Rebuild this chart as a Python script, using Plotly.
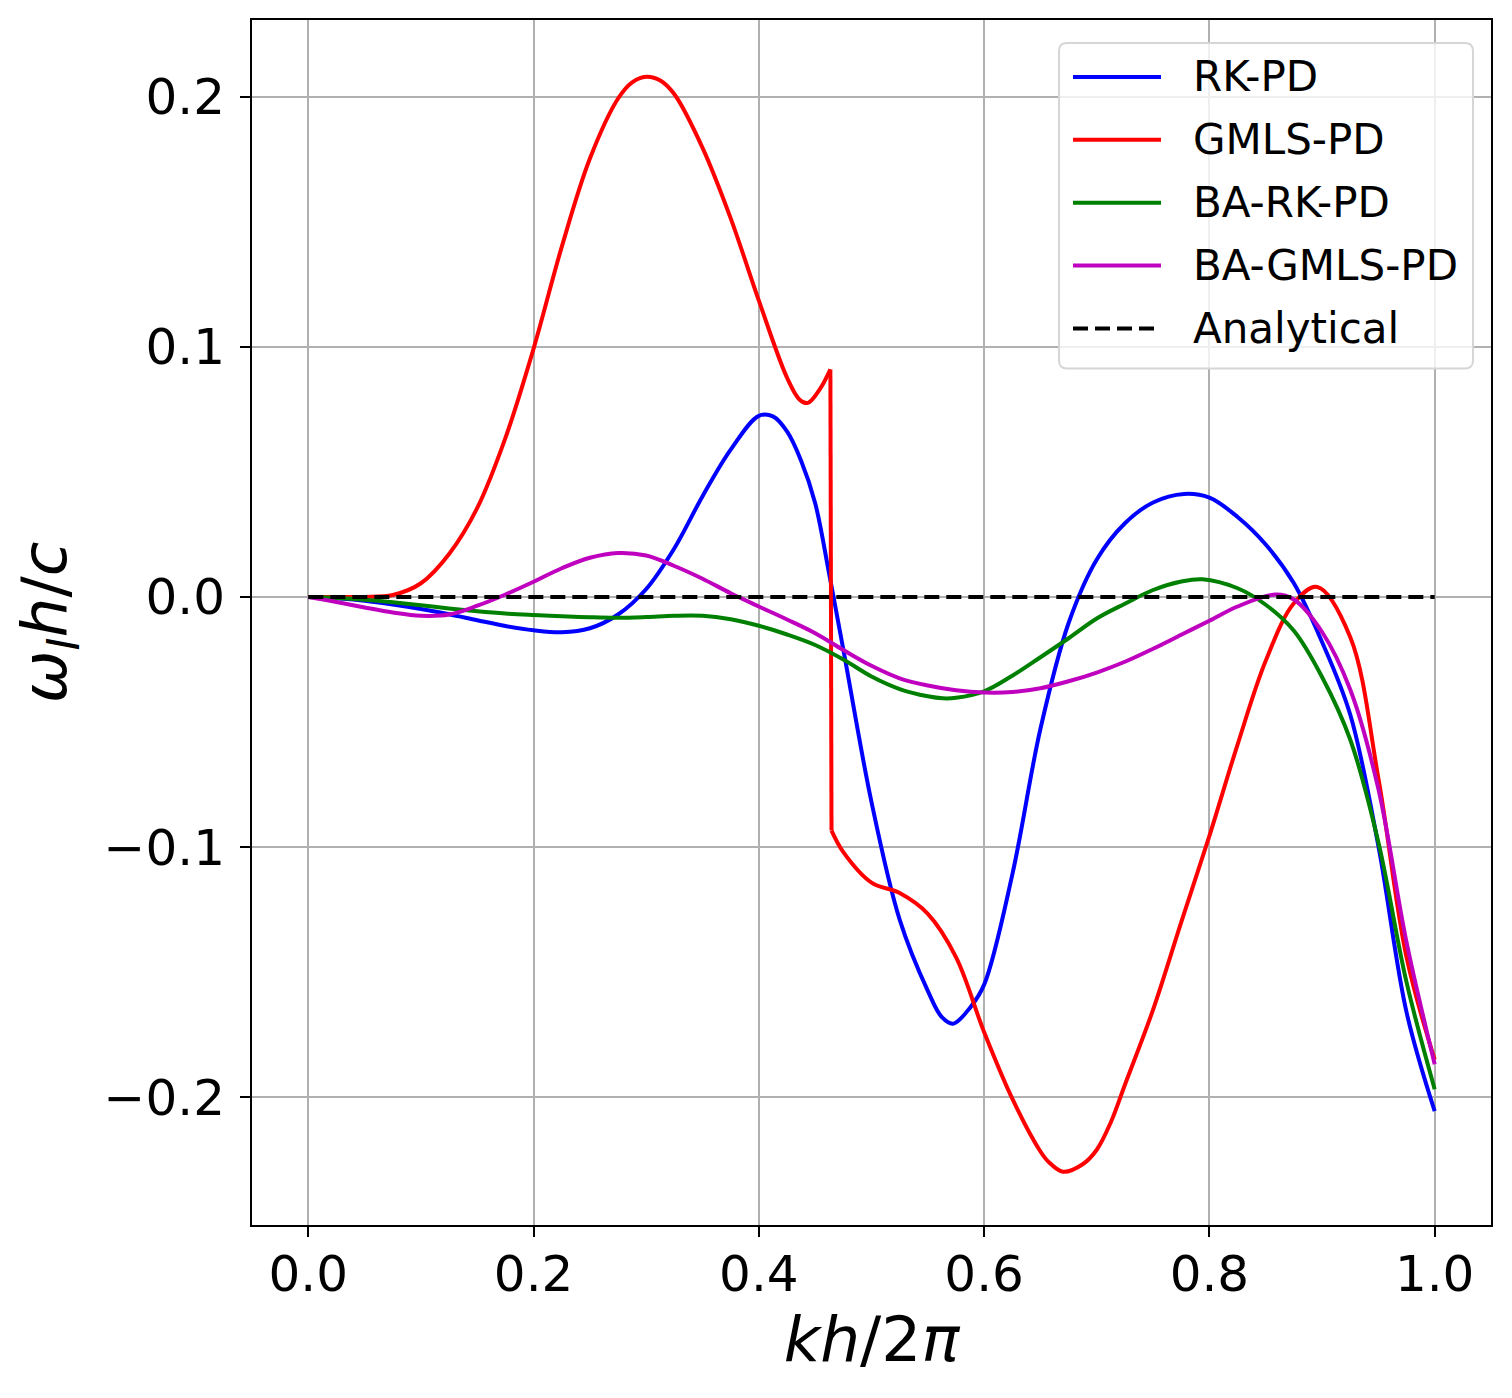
import plotly.graph_objects as go

# ---------------- data ----------------
rk_x = [0, 0.025, 0.05, 0.075, 0.1, 0.125, 0.15, 0.175, 0.2, 0.225, 0.25, 0.275, 0.3,
        0.325, 0.35, 0.375, 0.4, 0.4125, 0.425, 0.4375, 0.45, 0.4625, 0.475, 0.5, 0.525,
        0.55, 0.5625, 0.5725, 0.5875, 0.6, 0.625, 0.65, 0.675, 0.7, 0.725, 0.75, 0.7775,
        0.8, 0.825, 0.85, 0.875, 0.9, 0.925, 0.95, 0.975, 1.0]
rk_y = [0, -0.0005, -0.0015, -0.003, -0.0048, -0.0069, -0.0093, -0.0116, -0.0133,
        -0.0141, -0.0125, -0.0070, 0.0032, 0.0195, 0.0403, 0.0589, 0.0724, 0.0722,
        0.0662, 0.0545, 0.0375, 0.0090, -0.0210, -0.0820, -0.1290, -0.1575, -0.1680,
        -0.1706, -0.1642, -0.1550, -0.1110, -0.0527, -0.0104, 0.0150, 0.0295, 0.0378,
        0.0412, 0.0397, 0.0320, 0.0210, 0.0055, -0.0180, -0.0470, -0.0995, -0.1660,
        -0.2056]

gmls_x = [0, 0.025, 0.05, 0.075, 0.1, 0.125, 0.15, 0.175, 0.2, 0.225, 0.25, 0.275,
          0.2875, 0.3, 0.3125, 0.325, 0.35, 0.375, 0.4, 0.425, 0.4362, 0.4435, 0.4539,
          0.4635,
          0.4645, 0.475, 0.5, 0.525, 0.55, 0.575, 0.6, 0.625, 0.65, 0.6575, 0.67, 0.6875,
          0.7, 0.7125, 0.725, 0.75, 0.775, 0.8, 0.825, 0.85, 0.875, 0.8957, 0.925, 0.95,
          0.975, 1.0]
gmls_y = [0, 0.0, 0.0, 0.0008, 0.0055, 0.0172, 0.0356, 0.0636, 0.0993, 0.1400, 0.1753,
          0.1993, 0.2058, 0.2080, 0.2065, 0.2010, 0.1796, 0.1514, 0.1185, 0.0877, 0.0789,
          0.0776, 0.0829, 0.0910,
          -0.0934, -0.1020, -0.1142, -0.1184, -0.1267, -0.1440, -0.1740, -0.2006,
          -0.2217, -0.2260, -0.2298, -0.2268, -0.2210, -0.2100, -0.1950, -0.1650,
          -0.1300, -0.0955, -0.0590, -0.0255, -0.0025, 0.0040, -0.0160, -0.0724,
          -0.1440, -0.1850]
gmls_jump_at = 0.4645  # the GMLS-PD curve drops vertically here

bark_x = [0, 0.025, 0.05, 0.075, 0.1, 0.125, 0.15, 0.175, 0.2, 0.225, 0.25, 0.275, 0.3,
          0.325, 0.35, 0.375, 0.4, 0.425, 0.45, 0.475, 0.5, 0.525, 0.55, 0.5632, 0.575,
          0.6, 0.625, 0.65, 0.675, 0.7, 0.725, 0.75, 0.775, 0.7937, 0.825, 0.85, 0.875,
          0.9, 0.925, 0.95, 0.975, 1.0]
bark_y = [0, -0.0004, -0.0011, -0.0021, -0.0033, -0.0046, -0.0057, -0.0066, -0.0072,
          -0.0077, -0.0081, -0.0083, -0.0080, -0.0075, -0.0075, -0.0089, -0.0115,
          -0.0150, -0.0192, -0.0250, -0.0318, -0.0368, -0.0397, -0.0405, -0.0403,
          -0.0377, -0.0315, -0.0241, -0.0165, -0.0086, -0.0027, 0.0028, 0.0062, 0.0071,
          0.0035, -0.0031, -0.0135, -0.0320, -0.0570, -0.0980, -0.1540, -0.1968]

bagmls_x = [0, 0.025, 0.05, 0.075, 0.1, 0.125, 0.15, 0.175, 0.2, 0.225, 0.25, 0.275, 0.3,
            0.325, 0.35, 0.375, 0.4, 0.425, 0.45, 0.475, 0.5, 0.525, 0.55, 0.575, 0.6,
            0.625, 0.65, 0.675, 0.7, 0.725, 0.75, 0.775, 0.8, 0.825, 0.8588, 0.875, 0.9,
            0.925, 0.95, 0.975, 1.0]
bagmls_y = [0, -0.0020, -0.0042, -0.0062, -0.0075, -0.0070, -0.0035, 0.0010, 0.0061,
            0.0115, 0.0157, 0.0176, 0.0166, 0.0124, 0.0073, 0.0015, -0.0038, -0.0090,
            -0.0145, -0.0212, -0.0275, -0.0325, -0.0354, -0.0373, -0.0382, -0.0380,
            -0.0365, -0.0337, -0.0302, -0.0259, -0.0207, -0.0151, -0.0095, -0.0038,
            0.0010, -0.0010, -0.0140, -0.0370, -0.0767, -0.1380, -0.1868]

analytical_x = [0, 1.0]
analytical_y = [0, 0]

series_names = ["RK-PD", "GMLS-PD", "BA-RK-PD", "BA-GMLS-PD", "Analytical"]
series_colors = ["#0000ff", "#ff0000", "#008000", "#bf00bf", "#000000"]

x_ticks = [0.0, 0.2, 0.4, 0.6, 0.8, 1.0]
x_ticktext = ["0.0", "0.2", "0.4", "0.6", "0.8", "1.0"]
y_ticks = [-0.2, -0.1, 0.0, 0.1, 0.2]
y_ticktext = ["\u22120.2", "\u22120.1", "0.0", "0.1", "0.2"]

# ---------------- figure ----------------
FONT = "DejaVu Sans"
LW = 4
DASH = "15px,7px"
fig = go.Figure()


def add_line(xs, ys, name, col, shape="spline", dash="solid"):
    fig.add_trace(go.Scatter(
        x=xs, y=ys, mode="lines", name=name, legendgroup=name, showlegend=False,
        line=dict(color=col, width=LW, shape=shape, smoothing=1.0, dash=dash),
    ))


add_line(rk_x, rk_y, series_names[0], series_colors[0])

# GMLS-PD: smooth pieces on both sides of its vertical drop, joined by a straight segment
j = gmls_x.index(gmls_jump_at)
add_line(gmls_x[:j], gmls_y[:j], series_names[1], series_colors[1])
add_line(gmls_x[j - 1:j + 1], gmls_y[j - 1:j + 1], series_names[1], series_colors[1],
         shape="linear")
add_line(gmls_x[j:], gmls_y[j:], series_names[1], series_colors[1])

add_line(bark_x, bark_y, series_names[2], series_colors[2])
add_line(bagmls_x, bagmls_y, series_names[3], series_colors[3])
add_line(analytical_x, analytical_y, series_names[4], series_colors[4],
         shape="linear", dash=DASH)

axis_common = dict(
    showline=True, linecolor="black", linewidth=2, mirror=True,
    ticks="outside", ticklen=10, tickwidth=2, tickcolor="black",
    showgrid=True, gridcolor="#b0b0b0", gridwidth=2, zeroline=False,
    tickfont=dict(family=FONT, size=50, color="black"),
)

fig.update_xaxes(range=[-0.05, 1.05], tickvals=x_ticks, ticktext=x_ticktext,
                 ticklabelstandoff=-6,
                 title=dict(text="<i>kh</i>/2<i>π</i>",
                            font=dict(family=FONT, size=63, color="black"), standoff=8),
                 **axis_common)
fig.update_yaxes(range=[-0.2511, 0.2307], tickvals=y_ticks, ticktext=y_ticktext,
                 ticklabelstandoff=5,
                 title=dict(text="<i>ω</i><sub><i>I</i></sub><i>h</i>/<i>c</i>",
                            font=dict(family=FONT, size=63, color="black"), standoff=18),
                 **axis_common)

# ---------------- legend (matplotlib style, drawn in paper coordinates) ----------------
OFF = 8  # the page body adds an 8px margin around the figure
FIG_W, FIG_H = 1512 - OFF, 1398 - OFF
PL, PR, PT, PB = 252, 1491, 18, 1225  # plot area in screen pixels
W, H = PR - PL, PB - PT


def px(xp):
    return (xp - PL) / W


def py(yp):
    return (PB - yp) / H


bx0, bx1, by0, by1 = 1059, 1473, 41, 367
r = 8
path = (f"M {px(bx0 + r)},{py(by0)} L {px(bx1 - r)},{py(by0)} "
        f"Q {px(bx1)},{py(by0)} {px(bx1)},{py(by0 + r)} "
        f"L {px(bx1)},{py(by1 - r)} Q {px(bx1)},{py(by1)} {px(bx1 - r)},{py(by1)} "
        f"L {px(bx0 + r)},{py(by1)} Q {px(bx0)},{py(by1)} {px(bx0)},{py(by1 - r)} "
        f"L {px(bx0)},{py(by0 + r)} Q {px(bx0)},{py(by0)} {px(bx0 + r)},{py(by0)} Z")
fig.add_shape(type="path", path=path, xref="paper", yref="paper",
              fillcolor="rgba(255,255,255,0.8)", line=dict(color="#d6d6d6", width=2),
              layer="above")

for i, (name, col) in enumerate(zip(series_names, series_colors)):
    yy = 75 + 63 * i
    fig.add_shape(type="line", xref="paper", yref="paper",
                  x0=px(1073), x1=px(1161), y0=py(yy), y1=py(yy),
                  line=dict(color=col, width=LW,
                            dash=DASH if name == "Analytical" else "solid"),
                  layer="above")
    fig.add_annotation(x=px(1191), y=py(yy), xref="paper", yref="paper",
                       text=name, showarrow=False, xanchor="left", yanchor="middle",
                       font=dict(family=FONT, size=42, color="black"))

fig.update_layout(
    width=FIG_W, height=FIG_H,
    margin=dict(l=PL - OFF, r=1512 - PR, t=PT - OFF, b=1398 - PB),
    plot_bgcolor="white", paper_bgcolor="white",
    font=dict(family=FONT, color="black"),
    showlegend=False,
)

fig.write_html("out.html")
